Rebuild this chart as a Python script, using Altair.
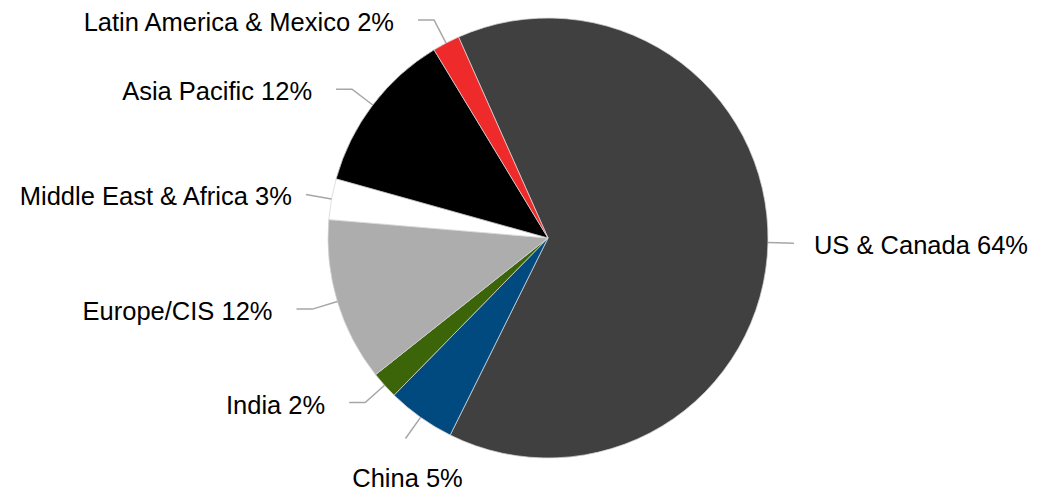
import math
import altair as alt
import pandas as pd

# ---- data ----
regions = ["US & Canada", "China", "India", "Europe/CIS",
           "Middle East & Africa", "Asia Pacific", "Latin America & Mexico"]
shares = [64, 5, 2, 12, 3, 12, 2]
colors = ["#404040", "#004a80", "#3b6508", "#adadad",
          "#ffffff", "#000000", "#ee2a2a"]

# ---- layout constants ----
W, H = 1049, 494
CX, CY, R = 548, 238, 220
START_DEG = 336.0
EXT, TAIL, GAP = 26, 16, 24
FONT = "Liberation Sans"
FS = 25.5

total = sum(shares)
pie = pd.DataFrame({"region": regions, "value": shares, "idx": range(len(regions))})

line_rows, text_rows = [], []
cum = 0
for i, (reg, v) in enumerate(zip(regions, shares)):
    mid = math.radians(START_DEG + 360.0 * (cum + v / 2) / total)
    cum += v
    s, c = math.sin(mid), math.cos(mid)
    p1 = (CX + R * s, CY - R * c)
    p2 = (CX + (R + EXT) * s, CY - (R + EXT) * c)
    side = 1 if s > 0 else -1
    pts = [p1, p2]
    label = f"{reg} {v}%"
    if c < -0.75:  # bottom sector: label centred below
        text_rows.append({"region": reg, "label": label, "x": p2[0] + 2, "y": p2[1] + 40, "anchor": "center"})
    else:
        gap = GAP
        if abs(s) < 0.97:
            p3 = (p2[0] + side * TAIL, p2[1])
            pts.append(p3)
        else:
            gap = GAP - 10 if side < 0 else GAP - 4
        end = pts[-1]
        text_rows.append({"region": reg, "label": label,
                          "x": end[0] + side * gap, "y": end[1] + 3,
                          "anchor": "left" if side > 0 else "right"})
    for k, (px, py) in enumerate(pts):
        line_rows.append({"region": reg, "k": k, "x": px, "y": py})

lines = pd.DataFrame(line_rows)
texts = pd.DataFrame(text_rows)

xs = alt.Scale(domain=[0, W], range=[0, W])
ys = alt.Scale(domain=[0, H], range=[0, H])

arc = alt.Chart(pie).mark_arc(radius=R, stroke="#d4d4d4", strokeWidth=0.75).encode(
    theta=alt.Theta("value:Q", stack=True,
                    scale=alt.Scale(range=[math.radians(START_DEG),
                                           math.radians(START_DEG) + 2 * math.pi])),
    color=alt.Color("region:N", scale=alt.Scale(domain=regions, range=colors), legend=None),
    order=alt.Order("idx:Q"),
    x=alt.value(CX),
    y=alt.value(CY),
)

leader = alt.Chart(lines).mark_line(color="#a6a6a6", strokeWidth=1.5).encode(
    x=alt.X("x:Q", scale=xs, axis=None),
    y=alt.Y("y:Q", scale=ys, axis=None),
    detail="region:N",
    order="k:Q",
)

def text_layer(anchor):
    return alt.Chart(texts).transform_filter(alt.datum.anchor == anchor).mark_text(
        align=anchor, baseline="middle", font=FONT, fontSize=FS, color="#000000"
    ).encode(
        x=alt.X("x:Q", scale=xs, axis=None),
        y=alt.Y("y:Q", scale=ys, axis=None),
        text="label:N",
    )

chart = alt.layer(arc, leader, text_layer("left"), text_layer("right"), text_layer("center")).properties(
    width=W, height=H, autosize=alt.AutoSizeParams(type="none"), padding=0,
    background="white"
).configure_view(stroke=None)

chart.save("out.html", embed_options={"renderer": "svg", "actions": False})
